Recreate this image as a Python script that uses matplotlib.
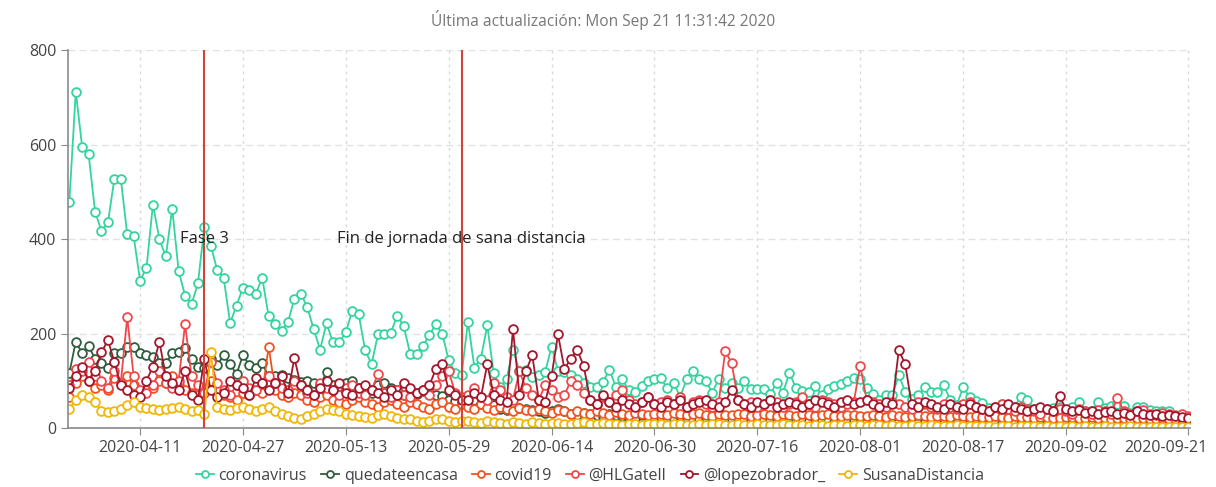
import numpy as np
import pandas as pd
import matplotlib
matplotlib.use("Agg")
import matplotlib.pyplot as plt
import matplotlib.dates as mdates
from matplotlib.transforms import ScaledTranslation
from matplotlib.lines import Line2D

plt.rcParams['font.family'] = ['Open Sans', 'DejaVu Sans']

dates = pd.date_range('2020-03-31', '2020-09-21', freq='D')

series_names = ['coronavirus', 'quedateencasa', 'covid19', '@HLGatell',
                '@lopezobrador_', 'SusanaDistancia']
series_colors = ['#33d49e', '#2e5e3e', '#f4511e', '#f0474a', '#a3162b', '#f2b705']

coronavirus = [
    479, 712, 594, 579, 458, 417, 435, 527, 528, 410,
    406, 312, 339, 473, 400, 363, 464, 332, 280, 262,
    306, 426, 386, 334, 318, 222, 259, 297, 293, 284,
    318, 236, 220, 206, 224, 274, 284, 256, 209, 166,
    222, 181, 181, 203, 248, 241, 165, 135, 198, 200,
    202, 238, 216, 157, 157, 174, 197, 220, 199, 144,
    116, 112, 225, 128, 147, 217, 116, 87, 104, 166,
    121, 123, 108, 112, 118, 172, 121, 118, 112, 103,
    95, 87, 86, 98, 123, 87, 103, 80, 77, 89,
    99, 104, 106, 84, 95, 66, 103, 121, 103, 99,
    75, 104, 84, 96, 85, 99, 83, 83, 83, 71,
    96, 75, 117, 84, 79, 76, 89, 70, 82, 88,
    93, 100, 105, 103, 84, 73, 60, 70, 70, 112,
    77, 62, 70, 86, 77, 76, 91, 59, 48, 86,
    66, 58, 53, 42, 37, 50, 48, 45, 66, 59,
    40, 39, 39, 42, 45, 39, 45, 54, 36, 35,
    56, 43, 46, 50, 47, 32, 45, 44, 38, 37,
    36, 36, 24, 23, 17,
]

quedateencasa = [
    # mar 31 - may 9
    116, 183, 158, 173, 147, 138, 126, 159, 158, 172,
    171, 158, 154, 151, 138, 137, 158, 161, 169, 145,
    130, 126, 147, 133, 154, 135, 114, 154, 133, 126,
    137, 109, 109, 112, 105, 102, 98, 100, 95, 90,
    # may 10 - may 31
    118, 92, 88, 95, 100, 85, 80, 75, 90, 95, 85,
    80, 70, 65, 72, 78, 75, 70, 68, 60, 58, 52,
    # june
    55, 60, 50, 45, 48, 40, 38, 45, 42, 40,
    38, 35, 32, 36, 40, 35, 30, 28, 32, 30,
    28, 25, 30, 28, 26, 24, 22, 28, 25, 22,
    # july
    24, 22, 20, 25, 22, 20, 18, 22, 20, 18,
    16, 20, 22, 18, 16, 15, 20, 18, 16, 14,
    18, 16, 15, 14, 18, 16, 14, 13, 16, 15, 14,
    # august
    13, 12, 15, 14, 12, 11, 14, 13, 12, 11,
    13, 12, 11, 10, 12, 11, 10, 12, 11, 10,
    9, 11, 10, 9, 10, 9, 8, 10, 9, 8, 9,
    # september
    8, 9, 8, 7, 9, 8, 7, 8, 7, 6,
    8, 7, 6, 7, 6, 5, 7, 6, 5, 6, 5,
]

covid19 = [
    # mar 31 - apr 30
    65, 95, 110, 100, 85, 90, 80, 105, 95, 110,
    90, 75, 80, 85, 100, 95, 110, 90, 80, 75,
    70, 85, 100, 80, 70, 65, 60, 75, 70, 80, 75,
    # may
    172, 80, 70, 65, 75, 70, 60, 55, 65, 70,
    60, 55, 50, 60, 65, 55, 50, 45, 55, 60,
    50, 45, 55, 50, 45, 40, 50, 55, 45, 40, 50,
    # june
    45, 40, 50, 42, 38, 45, 40, 35, 42, 38,
    35, 40, 36, 32, 38, 35, 30, 36, 32, 30,
    35, 32, 28, 34, 30, 28, 32, 30, 27, 30,
    # july
    30, 28, 32, 30, 27, 29, 31, 28, 26, 30,
    28, 27, 30, 29, 26, 28, 30, 27, 25, 29,
    28, 26, 30, 28, 25, 27, 29, 26, 25, 28, 27,
    # august
    26, 25, 28, 26, 24, 27, 25, 24, 26, 28,
    25, 24, 26, 25, 23, 27, 25, 24, 26, 24,
    23, 25, 24, 22, 25, 24, 23, 22, 24, 23, 22,
    # september
    22, 24, 23, 21, 22, 24, 22, 21, 20, 22,
    21, 20, 22, 21, 19, 20, 21, 19, 18, 20, 17,
]

hlgatell = [
    # mar 31 - apr 30
    90, 125, 120, 140, 110, 100, 85, 120, 95, 234,
    110, 80, 75, 90, 120, 95, 85, 100, 220, 110,
    90, 75, 140, 95, 80, 70, 90, 100, 85, 80, 95,
    # may
    110, 95, 85, 80, 100, 90, 75, 70, 95, 85,
    80, 70, 85, 90, 75, 70, 80, 115, 75, 65,
    80, 70, 65, 75, 80, 70, 90, 110, 120, 75, 65,
    # june
    70, 85, 65, 60, 95, 80, 65, 60, 120, 85,
    70, 60, 90, 80, 65, 70, 100, 90, 75, 60,
    50, 65, 55, 70, 80, 60, 50, 55, 65, 50,
    # july
    55, 60, 50, 65, 45, 55, 60, 50, 45, 55,
    162, 138, 60, 50, 55, 45, 50, 60, 55, 45,
    50, 55, 65, 50, 45, 60, 55, 50, 45, 50, 55,
    # august
    132, 60, 55, 50, 45, 55, 50, 45, 40, 55,
    50, 45, 40, 50, 45, 40, 50, 55, 45, 40,
    35, 45, 50, 40, 35, 45, 40, 35, 30, 40, 35,
    # september
    40, 35, 30, 40, 35, 30, 38, 35, 30, 64,
    35, 30, 35, 38, 30, 28, 32, 30, 28, 30, 25,
]

lopezobrador = [
    # mar 31 - apr 30
    85, 110, 130, 100, 120, 160, 186, 140, 90, 80,
    70, 65, 100, 130, 183, 110, 95, 80, 120, 70,
    60, 145, 80, 65, 75, 100, 90, 85, 70, 105, 95,
    # may
    80, 95, 110, 75, 148, 90, 80, 70, 85, 100,
    80, 95, 75, 70, 85, 90, 80, 75, 65, 80,
    70, 95, 85, 75, 80, 90, 125, 135, 80, 70, 60,
    # june
    60, 75, 65, 135, 70, 60, 55, 209, 70, 120,
    154, 60, 55, 110, 198, 125, 147, 165, 131, 60,
    50, 70, 55, 45, 60, 50, 45, 55, 65, 50,
    # july
    45, 55, 50, 60, 45, 50, 55, 60, 50, 45,
    55, 80, 60, 50, 45, 55, 50, 60, 45, 50,
    55, 50, 45, 50, 60, 55, 50, 45, 55, 60, 50,
    # august
    55, 60, 50, 45, 55, 50, 165, 135, 50, 45,
    55, 50, 45, 40, 50, 45, 40, 50, 45, 40,
    35, 45, 40, 50, 45, 40, 35, 40, 45, 40, 35,
    # september
    68, 40, 35, 38, 32, 35, 30, 33, 35, 30,
    32, 28, 35, 30, 28, 30, 26, 28, 25, 24, 22,
]

susana = [
    # mar 31 - apr 30
    40, 60, 70, 65, 55, 35, 33, 35, 40, 48,
    55, 45, 42, 40, 38, 40, 42, 45, 40, 35,
    38, 30, 160, 45, 40, 38, 42, 45, 40, 35, 40,
    # may
    45, 35, 30, 25, 22, 20, 25, 30, 35, 40,
    38, 35, 30, 28, 25, 24, 22, 28, 30, 25,
    22, 20, 18, 15, 12, 15, 18, 20, 15, 12, 14,
    # june
    15, 12, 10, 14, 12, 10, 8, 12, 10, 9,
    12, 10, 8, 11, 10, 9, 8, 10, 12, 9,
    8, 10, 9, 8, 7, 9, 8, 7, 9, 8,
    # july
    8, 7, 9, 8, 7, 6, 8, 7, 9, 8,
    7, 6, 8, 7, 6, 8, 7, 6, 7, 8,
    6, 7, 6, 5, 7, 6, 5, 7, 6, 5, 6,
    # august
    6, 5, 7, 6, 5, 6, 5, 4, 6, 5,
    4, 6, 5, 4, 5, 6, 4, 5, 4, 5,
    4, 3, 5, 4, 3, 4, 5, 4, 3, 4, 3,
    # september
    4, 3, 4, 3, 4, 3, 3, 4, 3, 2,
    3, 4, 3, 2, 3, 3, 2, 3, 2, 3, 2,
]

events = [pd.Timestamp('2020-04-21'), pd.Timestamp('2020-05-31')]
event_labels = ['Fase 3', 'Fin de jornada de sana distancia']

tick_dates = pd.to_datetime(['2020-04-11', '2020-04-27', '2020-05-13', '2020-05-29',
                             '2020-06-14', '2020-06-30', '2020-07-16', '2020-08-01',
                             '2020-08-17', '2020-09-02', '2020-09-21'])

fig = plt.figure(figsize=(12.16, 4.87), dpi=100)
ax = fig.add_axes([68 / 1216, 59 / 487, (1190 - 68) / 1216, (428 - 50) / 487])

all_series = [coronavirus, quedateencasa, covid19, hlgatell, lopezobrador, susana]
handles = []
for name, col, vals in zip(series_names, series_colors, all_series):
    ax.plot(dates, vals, color=col, lw=1.3, marker='o', ms=6.3, mfc='white',
            mec=col, mew=1.3)
    handles.append(Line2D([0], [0], color=col, lw=1.3, marker='o', ms=5,
                          mfc='white', mec=col, mew=1.3))

for d, lab in zip(events, event_labels):
    ax.axvline(d, color='#d2433a', lw=1.5, zorder=5)
    ax.text(d, 400, lab, ha='center', va='center', fontsize=12, color='#222222', zorder=6)

ax.set_ylim(0, 800)
ax.set_xlim(dates[0] - pd.Timedelta(hours=5), dates[-1] + pd.Timedelta(hours=7))
ax.set_yticks([0, 200, 400, 600, 800])
ax.set_xticks(tick_dates)
ax.xaxis.set_major_formatter(mdates.DateFormatter('%Y-%m-%d'))

ax.grid(axis='y', color='#e2e2e2', ls=(0, (5, 3)), lw=1)
ax.grid(axis='x', color='#d8d8d8', ls=(0, (2, 3)), lw=1)
ax.set_axisbelow(True)
for s in ['top', 'right']:
    ax.spines[s].set_visible(False)
for s in ['left', 'bottom']:
    ax.spines[s].set_color('#8a8a8a')
    ax.spines[s].set_linewidth(1.2)
ax.tick_params(colors='#8a8a8a', labelcolor='#444444', labelsize=11.5, length=5)

labels = ax.get_xticklabels()
labels[-1].set_transform(labels[-1].get_transform() +
                         ScaledTranslation(-0.22, 0, fig.dpi_scale_trans))

fig.text(603 / 1216, 1 - 20 / 487, 'Última actualización: Mon Sep 21 11:31:42 2020',
         ha='center', va='center', fontsize=11.2, color='#777777')

fig.legend(handles, series_names, loc='center', bbox_to_anchor=(590 / 1216, 1 - 476 / 487),
           ncol=6, frameon=False, fontsize=11.5, handlelength=1.1, handletextpad=0.3,
           columnspacing=0.9, labelcolor='#444444')

fig.savefig('out.png', dpi=100, facecolor='white')
